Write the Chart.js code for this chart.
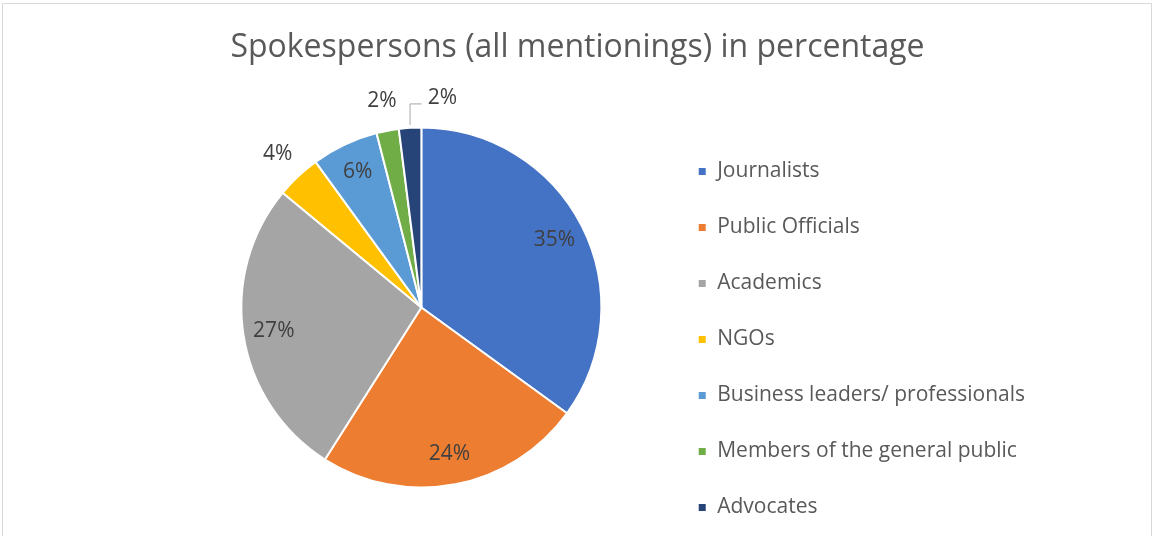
<!DOCTYPE html>
<html>
<head>
<meta charset="utf-8">
<script src="https://cdn.jsdelivr.net/npm/chart.js@4"></script>
<style>
  html, body { margin: 0; padding: 0; background: #fff; overflow: hidden; }
  #wrap { position: relative; width: 1155px; height: 536px; }
  #frame { position: absolute; left: 2px; top: 3px; width: 1150px; height: 560px; border: 1px solid #d9d9d9; box-sizing: border-box; }
  #chart { position: absolute; left: 0; top: 0; }
</style>
</head>
<body>
<div id="wrap">
  <div id="frame"></div>
  <canvas id="chart" width="1155" height="536"></canvas>
</div>
<script>
const categories = ['Journalists', 'Public Officials', 'Academics', 'NGOs', 'Business leaders/ professionals', 'Members of the general public', 'Advocates'];
const shares = [35, 24, 27, 4, 6, 2, 2];
const sliceColors = ['#4472C4', '#ED7D31', '#A5A5A5', '#FFC000', '#5B9BD5', '#70AD47', '#264478'];

const FONT = '"Open Sans", Lato, sans-serif';
const LEGEND_SIZE = 21;

// legend sits to the right of x=662; work out how much right padding that leaves
const probe = document.createElement('canvas').getContext('2d');
probe.font = LEGEND_SIZE + 'px ' + FONT;
const longest = Math.max(...categories.map(c => probe.measureText(c).width));
const legendWidth = 36 + 9 + LEGEND_SIZE / 2 + longest + 10;
const padRight = Math.max(0, Math.round(1155 - 662 - legendWidth));

// percentage labels: big slices inside, small ones just outside the rim
const sliceLabels = {
    id: 'sliceLabels',
    afterLayout(chart) {
        // keep the title centred on the whole canvas
        if (chart.titleBlock) {
            chart.titleBlock.left = 0;
            chart.titleBlock.right = chart.width;
        }
    },
    afterDatasetsDraw(chart) {
        const ctx = chart.ctx;
        const arcs = chart.getDatasetMeta(0).data;
        const values = chart.data.datasets[0].data;
        ctx.save();
        ctx.font = '21px ' + FONT;
        ctx.fillStyle = '#404040';
        ctx.textAlign = 'center';
        ctx.textBaseline = 'middle';
        let prevOutside = null;
        arcs.forEach((arc, i) => {
            const {x, y, startAngle, endAngle, outerRadius} = arc.getProps(['x', 'y', 'startAngle', 'endAngle', 'outerRadius'], true);
            const mid = (startAngle + endAngle) / 2;
            const text = values[i] + '%';
            const w = ctx.measureText(text).width;
            if (values[i] >= 5) {
                const r = outerRadius * 0.83;
                ctx.fillText(text, x + Math.cos(mid) * r, y + Math.sin(mid) * r);
                return;
            }
            const r = outerRadius + 30;
            let lx = x + Math.cos(mid) * r;
            let ly = y + Math.sin(mid) * r;
            if (prevOutside && Math.abs(ly - prevOutside.y) < 20 && lx - w / 2 < prevOutside.x + prevOutside.w / 2 + 4) {
                // pushed aside, with an elbow leader back to the slice
                const ex = x + Math.cos(mid) * outerRadius;
                const ey = y + Math.sin(mid) * outerRadius;
                lx = prevOutside.x + prevOutside.w / 2 + 31 + w / 2;
                ctx.strokeStyle = '#a6a6a6';
                ctx.lineWidth = 1;
                ctx.beginPath();
                ctx.moveTo(ex, ey - 3);
                ctx.lineTo(ex, ly + 6);
                ctx.lineTo(lx - w / 2 - 6, ly + 6);
                ctx.stroke();
            }
            ctx.fillText(text, lx, ly);
            prevOutside = {x: lx, y: ly, w: w};
        });
        ctx.restore();
    }
};

new Chart(document.getElementById('chart'), {
    type: 'pie',
    data: {
        labels: categories,
        datasets: [{
            data: shares,
            backgroundColor: sliceColors,
            borderColor: '#ffffff',
            borderWidth: 2,
            hoverOffset: 0
        }]
    },
    options: {
        responsive: false,
        animation: false,
        radius: 180,
        layout: {
            padding: { left: 180, right: padRight, top: 0, bottom: -17 }
        },
        plugins: {
            title: {
                display: true,
                text: 'Spokespersons (all mentionings) in percentage',
                color: '#595959',
                font: { family: FONT, size: 32, weight: 'normal', lineHeight: 1 },
                padding: { top: 32, bottom: 15 }
            },
            legend: {
                position: 'right',
                align: 'end',
                labels: {
                    color: '#595959',
                    font: { family: FONT, size: LEGEND_SIZE },
                    boxWidth: 9,
                    boxHeight: 9,
                    padding: 35
                }
            },
            tooltip: { enabled: false }
        }
    },
    plugins: [sliceLabels]
});
</script>
</body>
</html>
